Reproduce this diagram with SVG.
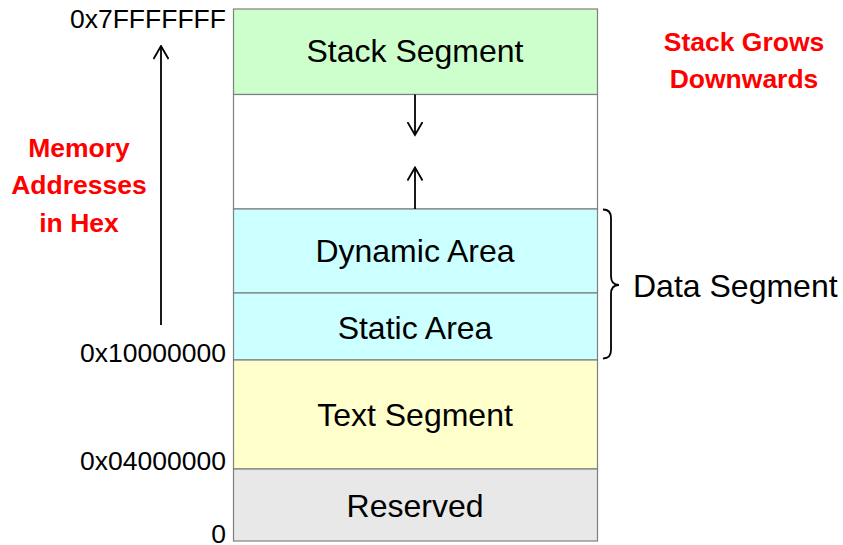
<svg xmlns="http://www.w3.org/2000/svg" width="843" height="545" viewBox="0 0 843 545">
  <style>
    .seg { stroke: #7f7f7f; stroke-width: 1.2; }
    .lbl { font-family: "Liberation Sans", Arial, sans-serif; font-size: 32px; fill: #000; text-anchor: middle; }
    .addr { font-family: "Liberation Sans", Arial, sans-serif; font-size: 26.5px; fill: #000; text-anchor: end; }
    .note { font-family: "Liberation Sans", Arial, sans-serif; font-size: 26.5px; font-weight: bold; fill: #ff0000; text-anchor: middle; }
    .line { stroke: #000; stroke-width: 1.8; fill: none; }
  </style>
  <defs>
    <!-- open chevron arrowhead, tip at the line end -->
    <marker id="open" viewBox="0 0 15 16" refX="13.5" refY="8" markerWidth="15" markerHeight="16" markerUnits="userSpaceOnUse" orient="auto">
      <path d="M0.5,0.5 L13.5,8 L0.5,15.5" fill="none" stroke="#000" stroke-width="1.8"/>
    </marker>
  </defs>

  <g id="stack">
    <rect class="seg" x="233.5" y="9" width="364" height="85.5" fill="#ccffcc"/>
    <text class="lbl" x="415" y="62">Stack Segment</text>
  </g>
  <g id="free">
    <rect class="seg" x="233.5" y="94.5" width="364" height="114.5" fill="#ffffff"/>
  </g>
  <g id="dynamic">
    <rect class="seg" x="233.5" y="209" width="364" height="84" fill="#ccffff"/>
    <text class="lbl" x="415" y="262">Dynamic Area</text>
  </g>
  <g id="static">
    <rect class="seg" x="233.5" y="293" width="364" height="67" fill="#ccffff"/>
    <text class="lbl" x="415" y="339">Static Area</text>
  </g>
  <g id="text">
    <rect class="seg" x="233.5" y="360" width="364" height="109" fill="#ffffcc"/>
    <text class="lbl" x="415" y="426">Text Segment</text>
  </g>
  <g id="reserved">
    <rect class="seg" x="233.5" y="469" width="364" height="72" fill="#e8e8e8"/>
    <text class="lbl" x="415" y="517">Reserved</text>
  </g>

  <g id="addresses">
    <text class="addr" x="226" y="28">0x7FFFFFFF</text>
    <text class="addr" x="226" y="362">0x10000000</text>
    <text class="addr" x="226" y="470">0x04000000</text>
    <text class="addr" x="226" y="543">0</text>
  </g>

  <g id="memory-note">
    <text class="note" x="79" y="157">Memory</text>
    <text class="note" x="79" y="194">Addresses</text>
    <text class="note" x="79" y="232">in Hex</text>
  </g>

  <g id="stack-note">
    <text class="note" x="744" y="51">Stack Grows</text>
    <text class="note" x="744" y="88">Downwards</text>
  </g>

  <g id="data-segment">
    <path class="line" d="M603,209.5 Q611,209.5 611,218 L611,276 Q611,285 619,285 Q611,285 611,294 L611,350 Q611,358.5 603,358.5"/>
    <text x="633" y="297" font-family="Liberation Sans, Arial, sans-serif" font-size="32" fill="#000">Data Segment</text>
  </g>

  <g id="connectors">
    <line class="line" x1="161" y1="325" x2="161" y2="46" marker-end="url(#open)"/>
    <line class="line" x1="415" y1="94.5" x2="415" y2="135" marker-end="url(#open)"/>
    <line class="line" x1="415" y1="209" x2="415" y2="167.5" marker-end="url(#open)"/>
  </g>
</svg>
